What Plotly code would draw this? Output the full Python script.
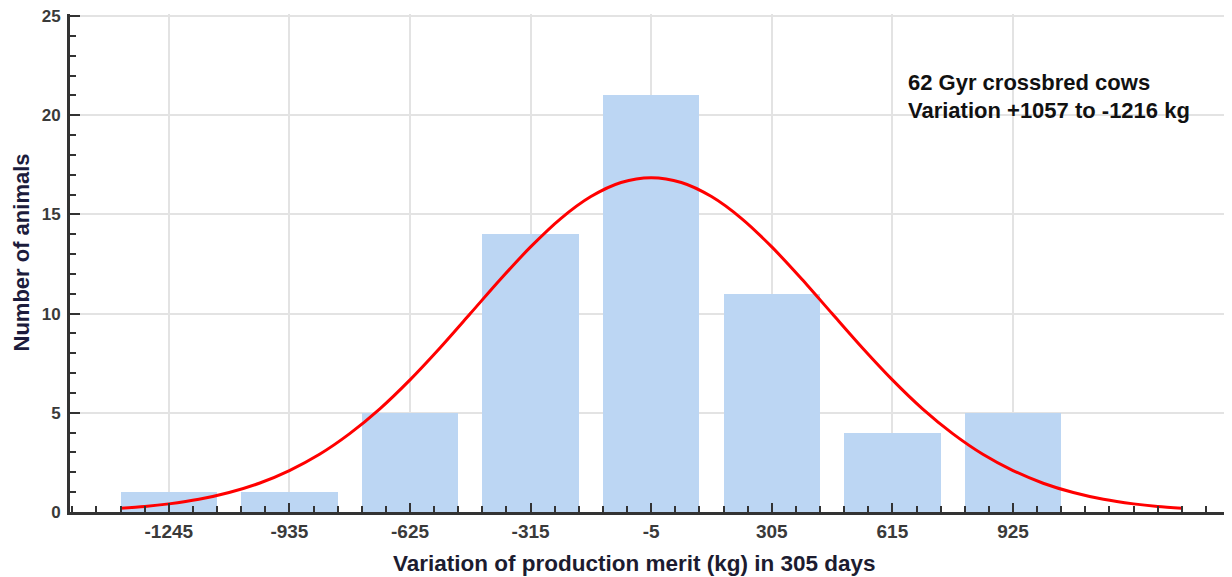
import plotly.graph_objects as go

# Histogram bins (class centres, kg) and counts
bin_centers = [-1245, -935, -625, -315, -5, 305, 615, 925]
counts = [1, 1, 5, 14, 21, 11, 4, 5]
tick_labels = ["-1245", "-935", "-625", "-315", "-5", "305", "615", "925"]

# Fitted normal curve
curve_x = [-1369, -1307, -1245, -1167.5, -1090, -1012.5, -935, -857.5, -780,
           -702.5, -625, -547.5, -470, -392.5, -315, -237.5, -160, -82.5, -5,
           72.5, 150, 227.5, 305, 382.5, 460, 537.5, 615, 692.5, 770, 847.5,
           925, 1002.5, 1080, 1157.5, 1235, 1297, 1359]
curve_y = [0.19, 0.28, 0.41, 0.64, 0.98, 1.45, 2.09, 2.91, 3.95,
           5.20, 6.66, 8.28, 10.00, 11.73, 13.36, 14.79, 15.90, 16.61, 16.85,
           16.61, 15.90, 14.79, 13.36, 11.73, 10.00, 8.28, 6.66, 5.20, 3.95, 2.91,
           2.09, 1.45, 0.98, 0.64, 0.41, 0.28, 0.19]

annotation_lines = ["62 Gyr crossbred cows", "Variation +1057 to -1216 kg"]
x_title = "Variation of production merit (kg) in 305 days"
y_title = "Number of animals"

FONT = "Liberation Sans, Arial, sans-serif"

# The page body has the browser's default 8px margin; compensate so the
# plot area sits at x 70..1232, y 14..512 in the window.
PAGE_OFF = 8
PLOT_L, PLOT_R, PLOT_T, PLOT_B = 70, 1232, 14, 512
plot_w = PLOT_R - PLOT_L
plot_h = PLOT_B - PLOT_T


def px_x(x):
    return (x - PLOT_L) / plot_w


def px_y(y):
    return (PLOT_B - y) / plot_h


fig = go.Figure()
fig.add_trace(go.Bar(
    x=bin_centers, y=counts, width=248,
    marker=dict(color="#bcd6f3", line=dict(width=0)),
    showlegend=False, hoverinfo="x+y",
))
fig.add_trace(go.Scatter(
    x=curve_x, y=curve_y, mode="lines",
    line=dict(color="#ff0000", width=3, shape="spline", smoothing=0.8),
    showlegend=False,
))

fig.update_layout(
    width=1232 - PAGE_OFF, height=577 - PAGE_OFF,
    margin=dict(l=PLOT_L - PAGE_OFF, r=0, t=PLOT_T - PAGE_OFF, b=65),
    paper_bgcolor="white", plot_bgcolor="white",
    bargap=0,
    font=dict(family=FONT),
)

fig.update_xaxes(
    range=[-1499, 1488],
    tickmode="array", tickvals=bin_centers, ticktext=tick_labels,
    ticks="inside", ticklen=9, tickwidth=2, tickcolor="#333333",
    minor=dict(tick0=-1245, dtick=62, ticks="inside", ticklen=6,
               tickwidth=2, tickcolor="#333333", showgrid=False),
    showline=True, linewidth=3, linecolor="#333333",
    showgrid=True, gridcolor="#e3e3e3", gridwidth=1.5,
    zeroline=False,
    tickfont=dict(family=FONT, size=19, color="#3a3a3a", weight="bold"),
    ticklabelstandoff=0,
    automargin=False,
)
fig.update_yaxes(
    range=[0, 25.1],
    tickmode="linear", tick0=0, dtick=5,
    ticks="inside", ticklen=10, tickwidth=2, tickcolor="#333333",
    minor=dict(dtick=1, ticks="inside", ticklen=6, tickwidth=2,
               tickcolor="#333333", showgrid=False),
    showline=True, linewidth=3, linecolor="#333333",
    showgrid=True, gridcolor="#e3e3e3", gridwidth=1.5,
    zeroline=False,
    tickfont=dict(family=FONT, size=17, color="#3a3a3a", weight="bold"),
    ticklabelstandoff=3,
    ticklabeloverflow="allow",
    automargin=False,
)

# Axis titles (placed as annotations to match the reference offsets)
fig.add_annotation(
    xref="paper", yref="paper", x=px_x(634.5), y=px_y(563),
    xanchor="center", yanchor="middle", text=x_title, showarrow=False,
    font=dict(family=FONT, size=22.5, color="#1c1c30", weight="bold"),
)
fig.add_annotation(
    xref="paper", yref="paper", x=px_x(21), y=px_y(252.5), textangle=-90,
    xanchor="center", yanchor="middle", text=y_title, showarrow=False,
    font=dict(family=FONT, size=22, color="#1c1c3c", weight="bold"),
)

for i, line in enumerate(annotation_lines):
    fig.add_annotation(
        xref="paper", yref="paper",
        x=px_x(906), y=px_y(83 + 27.5 * i),
        xanchor="left", yanchor="middle",
        text=line, showarrow=False, align="left",
        font=dict(family=FONT, size=22, color="#111111", weight="bold"),
    )

fig.write_html("out.html")
